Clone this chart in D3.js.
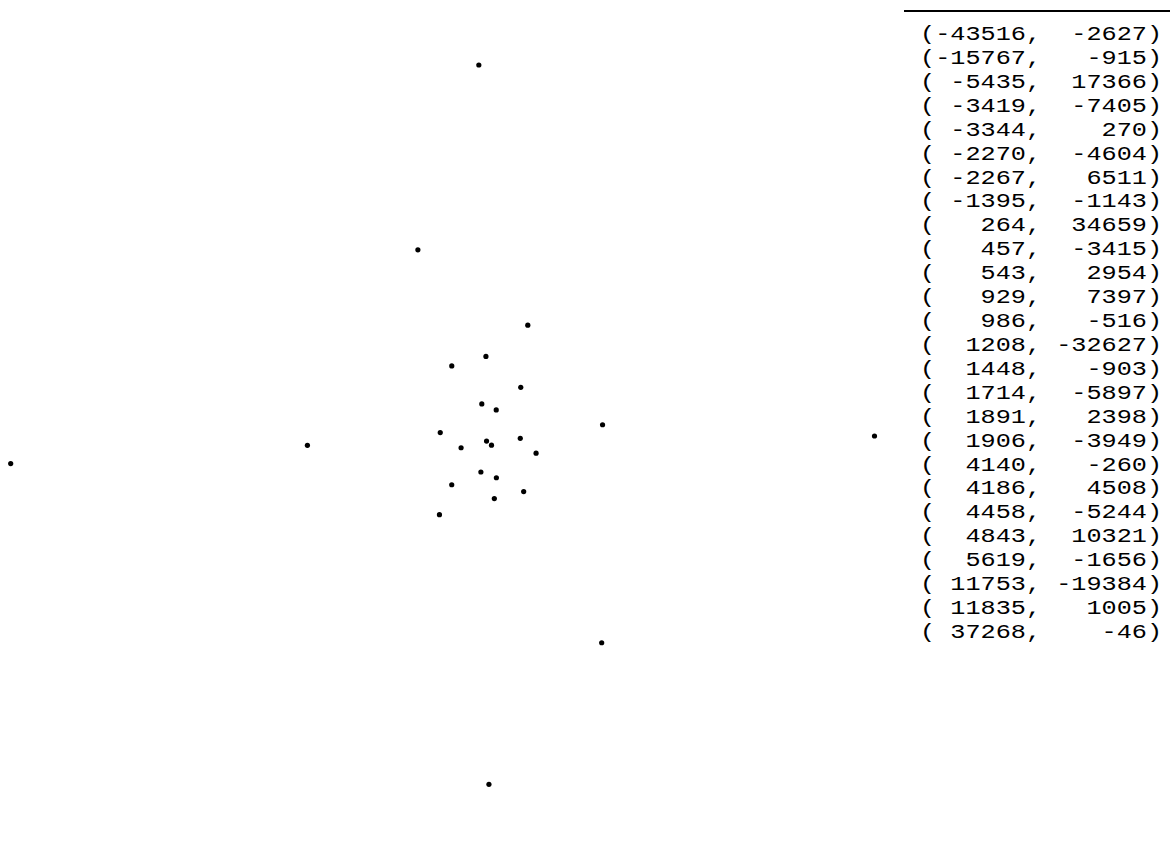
<!DOCTYPE html>
<html>
<head>
<meta charset="utf-8">
<script src="https://cdn.jsdelivr.net/npm/d3@7"></script>
<style>
  body { margin: 0; background: #fff; }
  svg { display: block; }
</style>
</head>
<body>
<div id="chart"></div>
<script>
// point coordinates, same order as the table
var xs = [-43516, -15767, -5435, -3419, -3344, -2270, -2267, -1395, 264, 457,
          543, 929, 986, 1208, 1448, 1714, 1891, 1906, 4140, 4186,
          4458, 4843, 5619, 11753, 11835, 37268];
var ys = [-2627, -915, 17366, -7405, 270, -4604, 6511, -1143, 34659, -3415,
          2954, 7397, -516, -32627, -903, -5897, 2398, -3949, -260, 4508,
          -5244, 10321, -1656, -19384, 1005, -46];

var width = 1170, height = 852;

var svg = d3.select("#chart")
    .append("svg")
    .attr("width", width)
    .attr("height", height);

var pts = xs.map(function(x, i) { return {x: x, y: ys[i]}; });

// equal aspect scatter
var x = d3.scaleLinear()
    .domain(d3.extent(xs))
    .range([10.7, 874.5]);
var y = d3.scaleLinear()
    .domain(d3.extent(ys))
    .range([784.3, 65]);

svg.append("g")
    .attr("class", "dots")
    .selectAll("circle")
    .data(pts)
  .enter().append("circle")
    .attr("cx", function(d) { return x(d.x); })
    .attr("cy", function(d) { return y(d.y); })
    .attr("r", 2.6)
    .style("fill", "#000");

// coordinate table
var table = svg.append("g").attr("class", "table");

table.append("line")
    .attr("x1", 904).attr("x2", 1170)
    .attr("y1", 11).attr("y2", 11)
    .style("stroke", "#000")
    .style("stroke-width", 1.8);

function row(d) {
  return "(" + String(d.x).padStart(6) + ", " + String(d.y).padStart(6) + ")";
}

table.selectAll("text")
    .data(pts)
  .enter().append("text")
    .attr("x", 920)
    .attr("y", function(d, i) { return 40 + i * 23.92; })
    .attr("textLength", 242)
    .attr("lengthAdjust", "spacingAndGlyphs")
    .style("font-family", "'Liberation Mono', 'DejaVu Sans Mono', monospace")
    .style("font-size", "20px")
    .style("white-space", "pre")
    .attr("xml:space", "preserve")
    .style("fill", "#000")
    .text(row);
</script>
</body>
</html>
